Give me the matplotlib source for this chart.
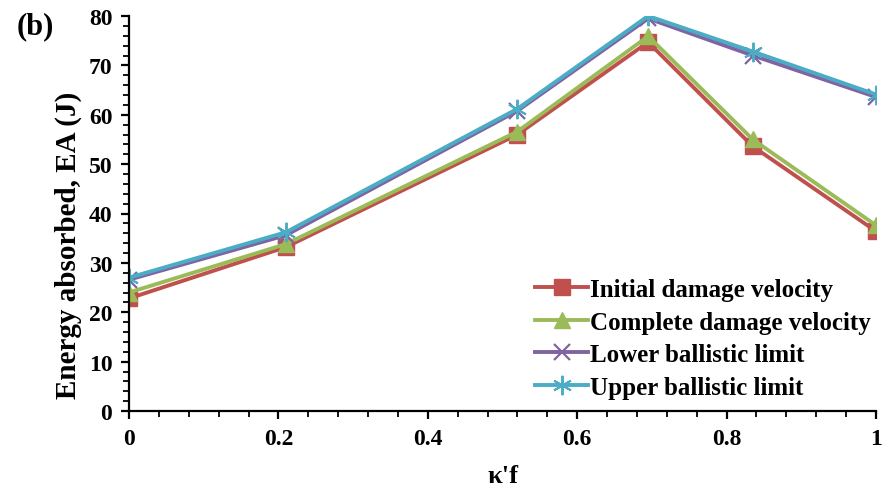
import matplotlib
import numpy as np

matplotlib.use("Agg")
import matplotlib.pyplot as plt
from matplotlib.ticker import MultipleLocator, FuncFormatter

kf = [0, 0.21, 0.52, 0.695, 0.835, 1.0]
initial_damage = [22.8, 33.2, 56.0, 74.7, 53.6, 36.4]
complete_damage = [24.0, 33.8, 56.6, 75.9, 55.0, 37.6]
lower_ballistic = [26.6, 35.6, 60.8, 79.5, 72.0, 63.6]
upper_ballistic = [27.0, 36.2, 61.2, 80.0, 72.8, 64.1]

plt.rcParams["font.family"] = ["Liberation Serif", "DejaVu Serif"]
plt.rcParams["font.weight"] = "bold"

fig = plt.figure(figsize=(8.86, 4.89), dpi=100)
ax = fig.add_axes([129 / 886, 1 - 412 / 489, 747 / 886, 395 / 489])

lw = 2.8
ax.plot(kf, initial_damage, color="#C0504D", lw=lw, marker="s", ms=11,
        label="Initial damage velocity")
ax.plot(kf, complete_damage, color="#9BBB59", lw=lw, marker="^", ms=12,
        label="Complete damage velocity")
ax.plot(kf, lower_ballistic, color="#8064A2", lw=lw, marker="x", ms=12, mew=1.6,
        label="Lower ballistic limit")
ax.plot(kf, upper_ballistic, color="#4BACC6", lw=lw, marker=(6, 2, 0), ms=14, mew=1.4,
        label="Upper ballistic limit")

ax.set_xlim(0, 1)
ax.set_ylim(0, 80)
ax.xaxis.set_major_locator(MultipleLocator(0.2))
ax.xaxis.set_minor_locator(MultipleLocator(0.04))
ax.yaxis.set_major_locator(MultipleLocator(10))
ax.yaxis.set_minor_locator(MultipleLocator(2))
ax.xaxis.set_major_formatter(FuncFormatter(lambda v, p: f"{v:g}"))

for s in ["top", "right"]:
    ax.spines[s].set_visible(False)
for s in ["left", "bottom"]:
    ax.spines[s].set_linewidth(1.6)
ax.tick_params(which="major", direction="out", length=6, width=1.6, labelsize=17, pad=6)
ax.tick_params(which="minor", direction="out", length=4, width=1.3)

ax.set_xlabel("κ'f", fontsize=19, fontweight="bold")
ax.xaxis.set_label_coords(0.5, -0.133)
ax.set_ylabel("Energy absorbed, EA (J)", fontsize=21, fontweight="bold")
ax.yaxis.set_label_coords(-0.063, 0.423)
fig.text(17 / 886, 1 - 27 / 489, "(b)", fontsize=22, fontweight="bold", va="center")

leg = ax.legend(loc="lower right", bbox_to_anchor=(1.017, -0.013), frameon=False,
                prop={"size": 18, "weight": "bold"}, handlelength=2.1,
                handletextpad=0.1, labelspacing=0.38, borderaxespad=0.3)

fig.savefig("out.png", dpi=100)
